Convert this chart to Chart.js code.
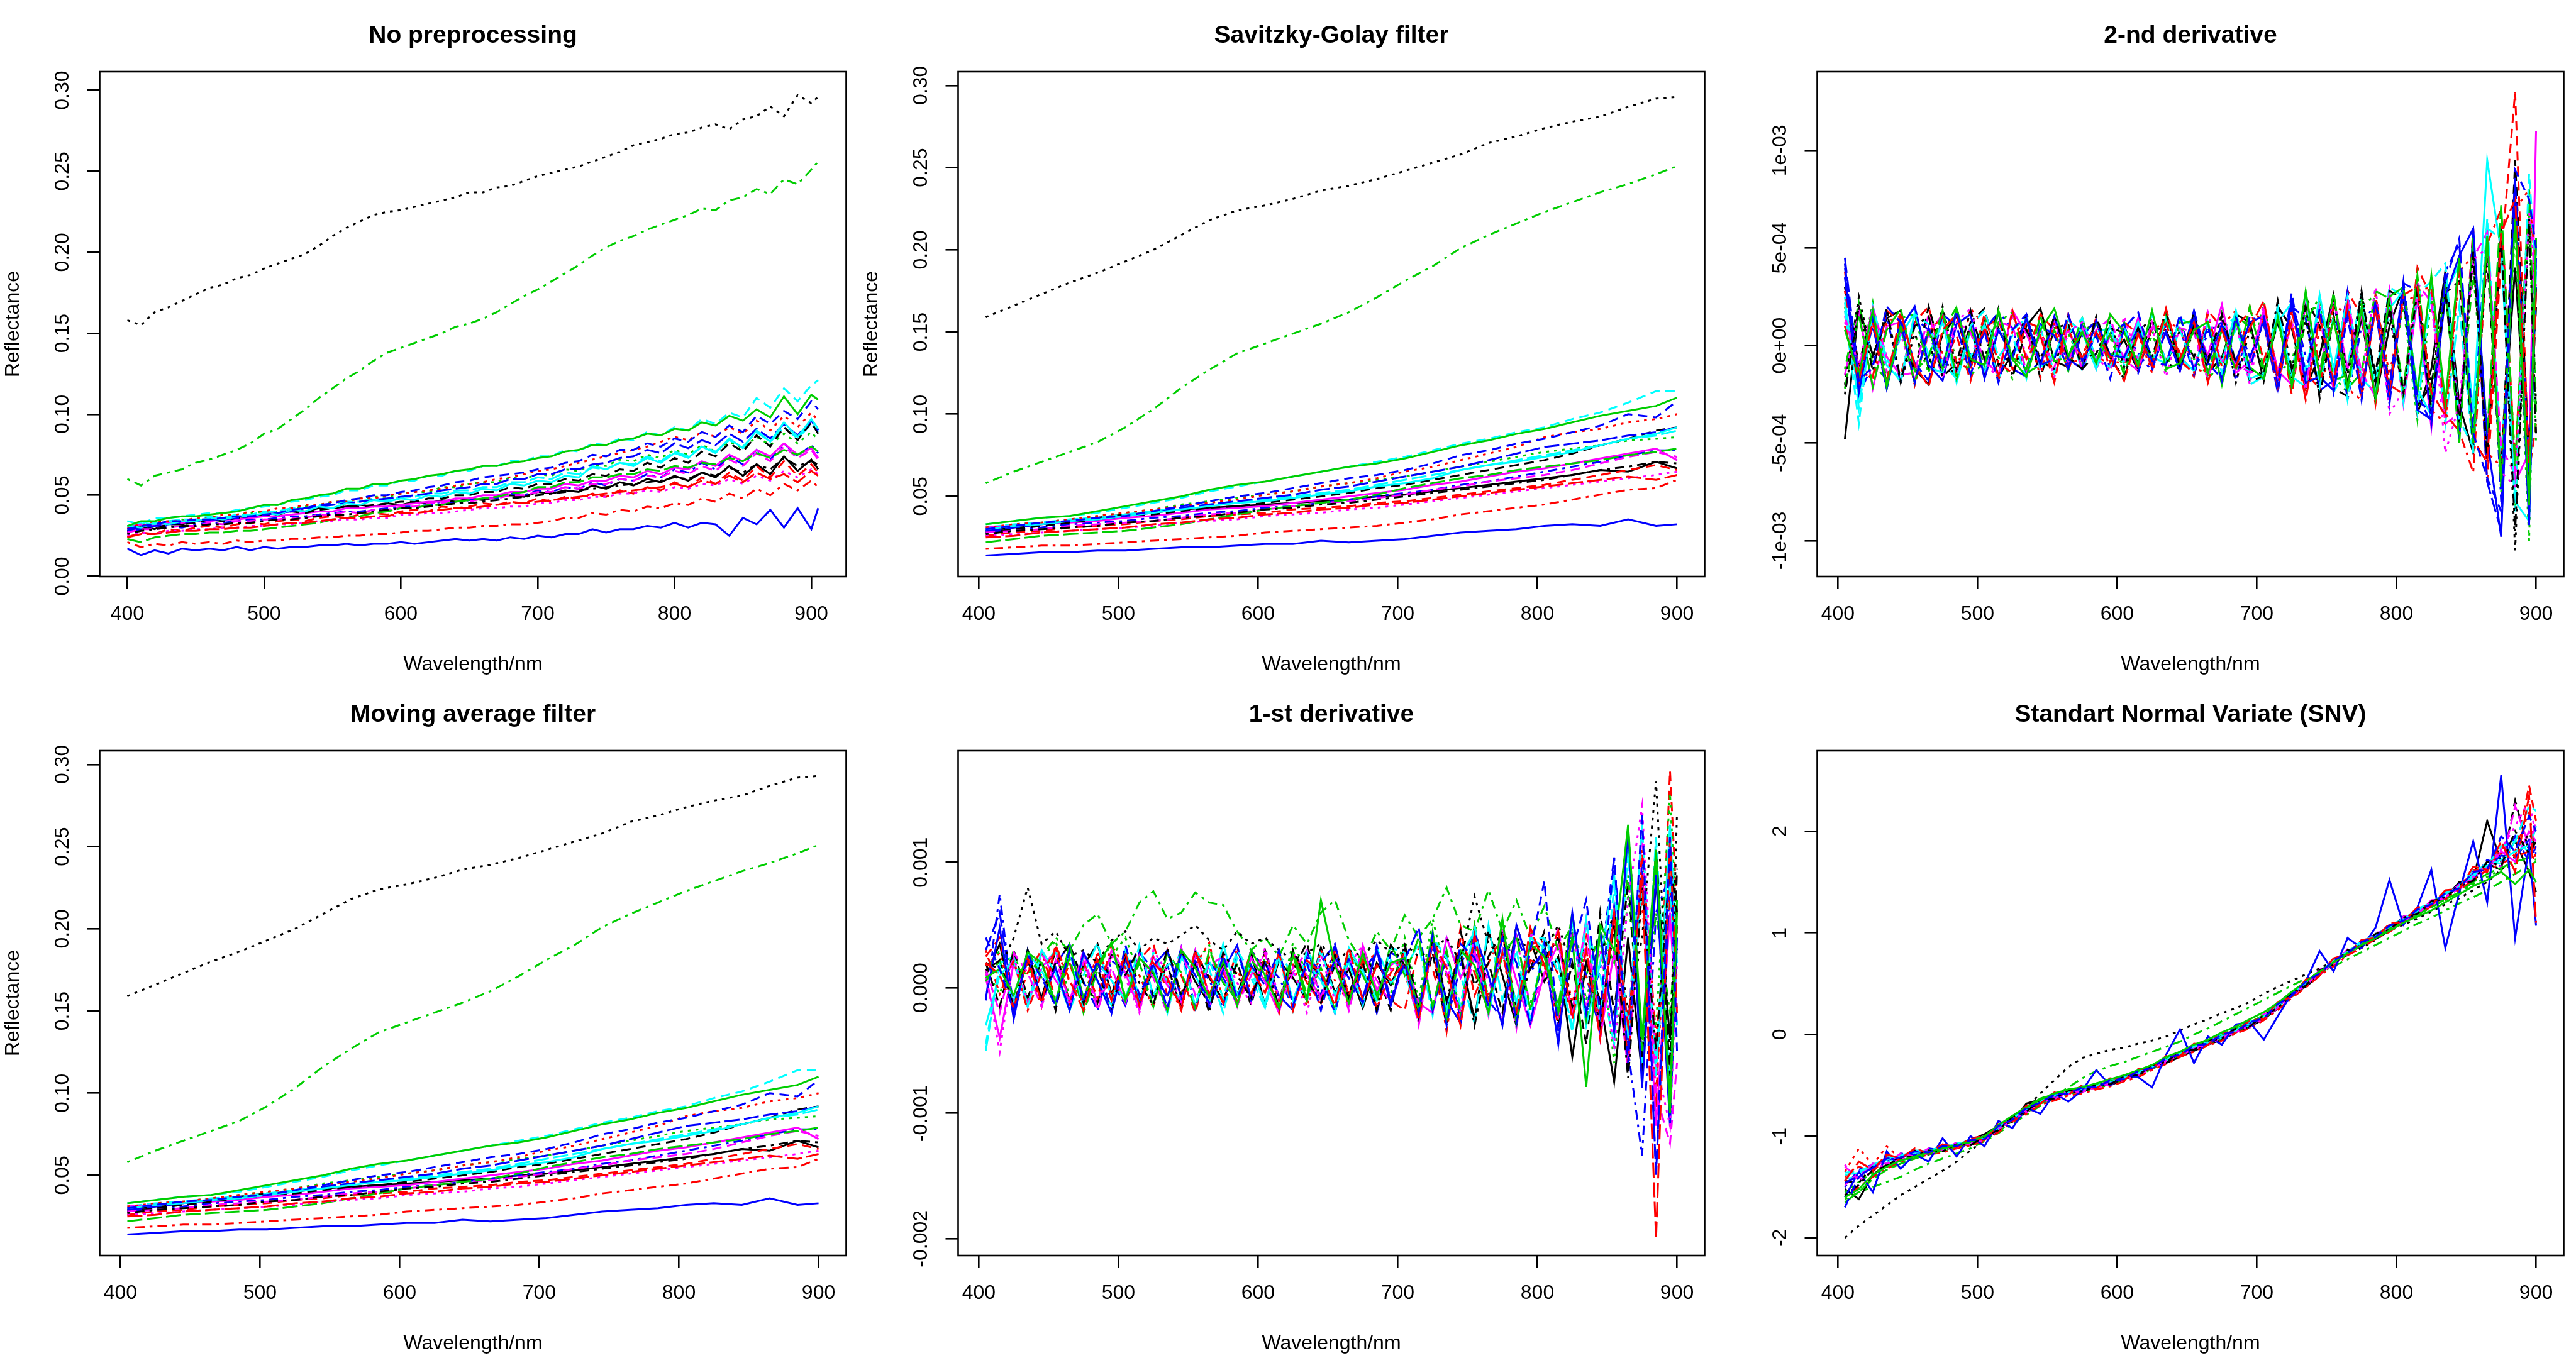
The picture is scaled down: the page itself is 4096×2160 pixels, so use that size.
<!DOCTYPE html>
<html>
<head>
<meta charset="utf-8">
<script src="https://cdn.jsdelivr.net/npm/chart.js@4.4.1/dist/chart.umd.min.js"></script>
<style>
  body { margin: 0; background: #fff; width: 4096px; height: 2160px; position: relative; overflow: hidden; }
  canvas { position: absolute; }
</style>
</head>
<body>
<canvas id="c1" width="1365" height="1080" style="left:0;top:0"></canvas>
<canvas id="c2" width="1365" height="1080" style="left:1365px;top:0"></canvas>
<canvas id="c3" width="1365" height="1080" style="left:2731px;top:0"></canvas>
<canvas id="c4" width="1365" height="1080" style="left:0;top:1080px"></canvas>
<canvas id="c5" width="1365" height="1080" style="left:1365px;top:1080px"></canvas>
<canvas id="c6" width="1365" height="1080" style="left:2731px;top:1080px"></canvas>
<script>
// wavelengths (nm)
const wlRaw = [400,410,420,430,440,450,460,470,480,490,500,510,520,530,540,550,560,570,580,590,600,610,620,630,640,650,660,670,680,690,700,710,720,730,740,750,760,770,780,790,800,810,820,830,840,850,860,870,880,890,900,905];
const wlSmooth = [405,425,445,465,485,505,525,545,565,585,605,625,645,665,685,705,725,745,765,785,805,825,845,865,885,900];
const wlTrim = [405,415,425,435,445,455,465,475,485,495,505,515,525,535,545,555,565,575,585,595,605,615,625,635,645,655,665,675,685,695,705,715,725,735,745,755,765,775,785,795,805,815,825,835,845,855,865,875,885,895,900];

// raw reflectance, one row per sample
const reflRaw = [
  [.028,.031,.029,.033,.032,.034,.035,.035,.037,.036, .039,.038,.041,.040,.042,.042,.043,.044,.043,.045, .044,.046,.045,.047,.046,.048,.047,.049,.050,.049, .052,.051,.053,.052,.056,.054,.058,.056,.060,.058, .062,.059,.064,.061,.068,.062,.069,.063,.074,.065, .072,.066],
  [.024,.027,.026,.029,.028,.030,.031,.030,.032,.033, .032,.034,.035,.034,.036,.037,.036,.038,.039,.038, .040,.041,.040,.043,.042,.043,.045,.044,.046,.045, .048,.046,.049,.048,.051,.049,.053,.051,.055,.053, .058,.055,.061,.057,.064,.059,.068,.061,.071,.062, .069,.064],
  [.029,.031,.032,.033,.035,.034,.037,.036,.038,.039, .040,.040,.042,.043,.044,.046,.046,.048,.049,.049, .051,.052,.052,.055,.055,.057,.058,.058,.061,.060, .063,.062,.066,.065,.069,.068,.072,.071,.075,.073, .078,.075,.081,.077,.083,.079,.086,.081,.088,.082, .089,.084],
  [.027,.029,.030,.031,.030,.032,.033,.033,.034,.035, .035,.036,.037,.037,.038,.039,.040,.040,.041,.042, .043,.043,.044,.046,.045,.047,.048,.048,.051,.050, .053,.052,.055,.054,.058,.056,.060,.059,.063,.061, .066,.064,.070,.066,.074,.069,.078,.072,.082,.074, .081,.076],
  [.030,.033,.032,.034,.035,.035,.037,.036,.038,.038, .040,.040,.042,.042,.044,.044,.046,.046,.048,.047, .049,.049,.051,.051,.053,.053,.055,.055,.058,.058, .061,.060,.064,.063,.067,.066,.070,.069,.074,.071, .077,.074,.080,.077,.084,.080,.089,.083,.092,.085, .094,.089],
  [.030,.032,.031,.033,.033,.034,.034,.035,.035,.036, .037,.037,.038,.039,.040,.040,.042,.042,.043,.043, .044,.045,.046,.046,.048,.048,.050,.050,.052,.052, .054,.054,.057,.056,.059,.059,.062,.061,.065,.063, .067,.066,.071,.068,.075,.071,.078,.074,.082,.075, .079,.073],
  [.027,.030,.029,.032,.032,.033,.035,.034,.036,.037, .038,.038,.040,.039,.041,.042,.043,.043,.044,.045, .046,.046,.048,.048,.050,.050,.052,.052,.055,.054, .057,.057,.060,.059,.063,.062,.066,.065,.070,.067, .073,.070,.077,.074,.082,.077,.087,.080,.092,.084, .095,.088],
  [.030,.032,.033,.034,.034,.036,.036,.038,.038,.040, .040,.042,.042,.044,.044,.046,.046,.048,.048,.050, .051,.052,.053,.054,.056,.057,.058,.060,.061,.063, .065,.066,.068,.070,.072,.074,.076,.078,.080,.083, .086,.084,.089,.086,.092,.088,.096,.090,.099,.092, .101,.096],
  [.060,.056,.062,.064,.066,.070,.072,.075,.078,.082, .088,.091,.097,.103,.110,.116,.122,.127,.133,.138, .141,.144,.147,.150,.154,.156,.159,.163,.168,.173, .177,.182,.187,.192,.198,.203,.207,.210,.214,.217, .220,.223,.227,.226,.232,.234,.239,.236,.245,.242, .251,.256],
  [.028,.030,.031,.032,.033,.034,.035,.035,.036,.037, .038,.039,.040,.042,.043,.044,.045,.046,.047,.048, .049,.050,.051,.053,.054,.055,.057,.057,.060,.060, .063,.063,.066,.066,.069,.070,.073,.074,.078,.076, .082,.079,.084,.081,.088,.083,.091,.085,.094,.087, .096,.090],
  [.031,.030,.033,.032,.034,.034,.036,.035,.037,.037, .039,.038,.041,.040,.043,.042,.045,.044,.047,.046, .048,.047,.050,.049,.052,.051,.054,.053,.057,.056, .059,.058,.062,.061,.068,.066,.070,.068,.073,.070, .076,.073,.080,.076,.085,.079,.090,.083,.095,.086, .097,.091],
  [.027,.029,.029,.030,.031,.031,.033,.032,.034,.034, .035,.035,.036,.036,.038,.038,.040,.039,.041,.041, .043,.043,.045,.045,.047,.046,.048,.048,.050,.050, .052,.052,.055,.054,.057,.057,.060,.059,.062,.061, .065,.063,.068,.065,.072,.068,.076,.071,.080,.073, .078,.072],
  [.158,.155,.163,.166,.170,.174,.178,.180,.184,.186, .190,.193,.196,.199,.204,.210,.215,.219,.223,.225, .226,.228,.230,.232,.234,.237,.237,.240,.241,.244, .247,.249,.251,.253,.256,.259,.262,.266,.268,.270, .273,.274,.277,.279,.276,.282,.284,.290,.284,.297, .292,.296],
  [.021,.018,.020,.019,.021,.020,.021,.020,.022,.021, .022,.022,.023,.023,.024,.024,.025,.025,.026,.026, .027,.028,.028,.029,.030,.030,.031,.031,.032,.032, .033,.034,.036,.036,.039,.038,.041,.040,.043,.042, .045,.044,.048,.046,.051,.048,.054,.050,.057,.053, .059,.055],
  [.023,.021,.024,.025,.026,.026,.027,.027,.028,.028, .029,.030,.031,.032,.033,.035,.036,.037,.039,.040, .042,.042,.044,.044,.046,.047,.048,.049,.051,.052, .055,.055,.058,.058,.061,.061,.063,.063,.066,.065, .068,.067,.070,.069,.073,.071,.076,.073,.078,.075, .080,.077],
  [.017,.013,.016,.014,.017,.016,.017,.016,.018,.016, .018,.017,.018,.018,.019,.019,.020,.019,.020,.020, .021,.020,.021,.022,.023,.022,.023,.022,.024,.023, .025,.024,.026,.026,.029,.027,.029,.029,.031,.030, .033,.030,.033,.032,.025,.036,.032,.041,.030,.042, .029,.042],
  [.034,.032,.036,.036,.037,.038,.039,.039,.041,.042, .043,.044,.046,.047,.049,.050,.053,.053,.056,.056, .059,.059,.062,.062,.065,.065,.068,.068,.071,.071, .074,.074,.078,.077,.082,.081,.085,.084,.089,.087, .092,.090,.097,.094,.101,.098,.110,.104,.116,.108, .118,.121],
  [.025,.027,.026,.028,.028,.029,.029,.030,.030,.031, .031,.032,.032,.033,.034,.034,.035,.035,.036,.036, .038,.038,.039,.039,.040,.041,.042,.042,.043,.043, .045,.045,.047,.047,.049,.049,.051,.051,.053,.052, .055,.054,.057,.056,.060,.057,.062,.059,.065,.061, .066,.063],
  [.026,.028,.029,.030,.031,.031,.032,.032,.033,.033, .034,.035,.035,.036,.037,.038,.038,.039,.040,.041, .042,.042,.043,.044,.045,.045,.046,.047,.048,.049, .050,.051,.052,.053,.054,.055,.056,.057,.058,.059, .061,.060,.064,.062,.067,.064,.069,.066,.073,.068, .071,.069],
  [.024,.026,.026,.027,.028,.028,.029,.029,.030,.030, .031,.032,.033,.033,.034,.035,.036,.036,.037,.037, .039,.039,.040,.041,.042,.042,.043,.044,.045,.045, .046,.047,.048,.049,.050,.051,.052,.053,.054,.055, .057,.055,.059,.057,.062,.058,.064,.060,.063,.058, .065,.062],
  [.031,.034,.034,.036,.037,.037,.038,.039,.040,.042, .044,.044,.047,.048,.050,.051,.054,.054,.057,.057, .059,.060,.062,.063,.065,.066,.068,.068,.070,.071, .073,.074,.077,.078,.081,.081,.084,.085,.088,.087, .091,.090,.095,.093,.099,.096,.103,.098,.111,.100, .112,.109],
  [.029,.031,.032,.034,.034,.035,.035,.036,.037,.037, .038,.039,.041,.042,.044,.045,.047,.048,.050,.050, .052,.053,.055,.056,.058,.059,.061,.062,.063,.064, .066,.067,.070,.071,.075,.074,.078,.078,.082,.080, .085,.083,.089,.086,.093,.089,.099,.094,.102,.097, .108,.103]
];

// smoothed reflectance (Savitzky-Golay and moving average look the same)
const reflSmooth = [
  [.029,.031,.033,.035,.037,.039,.040,.042,.043,.044,.045,.046,.047,.048,.050,.051,.053,.055,.057,.059,.061,.063,.066,.065,.071,.067],
  [.026,.028,.029,.031,.032,.033,.035,.036,.038,.039,.040,.042,.043,.044,.046,.047,.049,.051,.053,.055,.057,.060,.063,.066,.069,.066],
  [.030,.032,.034,.036,.038,.040,.042,.045,.047,.049,.051,.053,.056,.058,.060,.062,.065,.068,.071,.074,.077,.079,.081,.084,.085,.086],
  [.028,.030,.031,.033,.034,.035,.037,.038,.040,.041,.043,.044,.046,.048,.050,.052,.054,.057,.059,.062,.065,.068,.071,.075,.078,.078],
  [.031,.033,.034,.036,.037,.039,.041,.043,.045,.047,.048,.050,.052,.054,.057,.060,.063,.066,.069,.072,.075,.078,.081,.085,.087,.090],
  [.031,.032,.033,.034,.035,.037,.038,.040,.042,.043,.044,.046,.048,.050,.052,.054,.057,.059,.062,.065,.067,.070,.073,.076,.079,.072],
  [.028,.030,.032,.034,.036,.038,.039,.041,.043,.044,.046,.048,.050,.052,.055,.057,.060,.063,.066,.069,.072,.076,.081,.085,.090,.092],
  [.031,.033,.034,.036,.038,.040,.042,.044,.046,.048,.051,.053,.056,.058,.061,.065,.068,.072,.076,.080,.086,.089,.091,.095,.097,.100],
  [.058,.065,.071,.077,.083,.092,.103,.116,.127,.137,.143,.149,.155,.162,.171,.181,.190,.201,.209,.216,.223,.229,.235,.240,.246,.251],
  [.029,.031,.033,.035,.036,.038,.040,.043,.045,.047,.049,.051,.054,.056,.059,.062,.065,.068,.072,.076,.080,.082,.084,.087,.089,.092],
  [.030,.032,.033,.035,.036,.038,.040,.042,.044,.046,.047,.049,.051,.053,.056,.058,.061,.066,.069,.071,.074,.077,.081,.085,.088,.092],
  [.028,.029,.030,.032,.033,.034,.035,.037,.039,.040,.042,.044,.046,.047,.049,.051,.054,.056,.059,.061,.063,.066,.070,.074,.077,.074],
  [.159,.166,.173,.180,.186,.193,.200,.209,.218,.224,.227,.231,.236,.239,.243,.248,.253,.258,.265,.269,.274,.278,.281,.287,.292,.293],
  [.018,.019,.020,.020,.021,.022,.023,.024,.025,.026,.028,.029,.030,.031,.032,.034,.036,.039,.041,.043,.045,.048,.051,.054,.055,.060],
  [.022,.024,.026,.027,.028,.029,.031,.033,.036,.039,.042,.044,.046,.048,.051,.055,.058,.061,.063,.066,.068,.070,.072,.075,.077,.079],
  [.014,.015,.016,.016,.017,.017,.018,.019,.019,.020,.021,.021,.023,.022,.023,.024,.026,.028,.029,.030,.032,.033,.032,.036,.032,.033],
  [.033,.035,.037,.038,.040,.043,.046,.049,.053,.056,.059,.062,.065,.068,.071,.074,.078,.082,.085,.089,.092,.097,.101,.107,.114,.114],
  [.026,.027,.028,.029,.030,.031,.032,.034,.035,.036,.038,.039,.040,.042,.043,.045,.047,.049,.051,.053,.055,.057,.059,.061,.063,.065],
  [.027,.029,.030,.031,.032,.034,.035,.037,.038,.040,.042,.043,.045,.046,.048,.050,.052,.054,.056,.058,.060,.063,.066,.068,.071,.070],
  [.025,.026,.028,.029,.030,.031,.033,.034,.036,.037,.039,.040,.042,.043,.045,.046,.048,.050,.052,.054,.056,.058,.060,.062,.060,.063],
  [.033,.035,.037,.038,.041,.044,.047,.050,.054,.057,.059,.062,.065,.068,.070,.073,.077,.081,.084,.088,.091,.095,.099,.102,.105,.110],
  [.030,.032,.034,.035,.037,.038,.041,.044,.047,.050,.052,.055,.058,.061,.063,.066,.070,.075,.078,.082,.085,.089,.093,.100,.098,.108]
];

// 2nd derivative, in units of 1e-5
const deriv2 = [
  [-48,20,-5,14,18,-12,-20,6,15,-9, 12,-16,-4,10,19,-8,-11,7,12,-6, 3,-13,9,8,-10,17,-14,-6,16,12, -18,20,9,-22,-5,26,-20,14,-28,10, 30,-35,-12,38,-30,-55,55,-60,40,-70, 30],
  [38,-22,18,-6,-15,12,20,-10,5,-18, 9,14,-12,-5,16,8,-13,10,-6,-9, 12,6,-11,14,-4,-16,18,9,-12,20, -8,16,-25,22,-10,-18,28,15,-30,22, -28,40,25,-35,-44,60,-70,45,130,-65, -40],
  [20,-15,22,-18,10,6,-14,18,-8,-12, 15,-6,-17,12,9,-14,6,-9,11,4, -12,10,8,-14,12,-7,-15,19,-9,-11, 22,-14,-8,18,20,-16,-24,20,26,-18, 20,-38,24,-30,45,-55,50,-75,60,-100, 45],
  [42,-25,-10,16,-20,14,8,-16,18,-5, -13,17,9,-15,-8,12,-10,5,13,-12, 8,-4,-13,11,9,-15,7,12,-18,15, 11,-22,24,-6,-18,25,-28,10,22,-23, 33,-25,-40,38,52,-40,62,-80,75,-55, 30],
  [25,-32,14,-20,5,17,-11,-14,19,-6, 11,-18,8,14,-12,-6,10,-13,7,9, -10,12,-6,-9,14,10,-17,8,15,-20, -16,12,22,-13,20,-24,-10,26,-18,30, 25,-34,30,-40,20,-55,65,-60,70,-85, 50],
  [-15,18,-22,10,12,-18,6,16,-14,10, -7,-15,18,6,-11,13,-8,10,-12,5, -6,14,-10,7,-13,12,-5,21,-14,-8, 18,-13,-20,21,-14,24,-12,16,-26,28, -30,24,-42,30,-38,50,-48,62,-70,-55, 110],
  [30,-10,18,-20,9,-14,20,-6,-16,12, 19,-10,-5,15,-17,9,11,-12,-4,10, 6,-9,13,-10,8,-6,11,-16,14,-18, -16,12,-15,25,10,-22,-26,18,-14,28, 24,-31,-20,27,33,-52,45,-70,95,-60, 20],
  [18,-9,-18,12,15,-20,9,-4,-14,19, 10,-18,7,11,-16,12,-10,-6,14,-8, -9,6,-14,12,9,-11,-15,10,18,-12, 14,-18,22,-25,8,16,-22,-28,24,-15, 22,26,-33,-40,38,46,-55,-62,70,80, 25],
  [-12,22,-10,-17,14,16,-12,6,20,-15, -9,12,17,-14,-10,8,-13,11,6,-7, 12,-11,5,-8,11,13,-18,-7,16,9, -14,18,-20,12,25,-18,-15,24,-28,21, -27,35,-35,28,-44,38,-50,60,-85,70, -50],
  [45,-16,10,-22,14,-9,-18,16,10,-15, 8,17,-12,-16,11,5,-12,12,-8,6, 11,-14,9,6,-12,18,-9,-17,13,-6, 12,-24,20,14,-23,-18,28,-24,19,-30, 32,28,-40,34,-48,58,-70,-95,85,-65, 55],
  [22,-26,16,-10,-18,17,-5,12,-19,8, -14,9,-7,15,-11,-5,13,7,-12,10, -8,12,-10,14,-6,-13,12,-9,18,-17, -14,20,-16,-21,26,-12,25,-17,-24,19, 28,-22,-36,26,42,-35,95,48,-80,-90, 40],
  [15,-12,20,-6,-15,-14,16,-9,12,7, -16,12,10,-13,6,-11,9,-12,8,14, -7,-13,12,-8,9,7,-18,12,-9,-14, 19,-13,11,-20,15,-22,24,-14,-26,20, -26,32,22,-40,-35,45,58,-52,-66,78, 35],
  [-20,25,-7,18,-19,6,-11,20,-12,10, -16,9,-7,17,-8,-12,15,-7,-4,12, -11,7,14,-9,-12,8,-7,15,-19,8, -14,12,-17,13,-26,24,-15,28,-21,16, -25,30,-22,34,-40,46,-55,60,-105,70, -30],
  [28,-14,-16,18,12,-20,7,15,-9,-12, 16,-9,-14,12,9,-16,8,-7,14,-13, 7,-12,9,11,-8,-14,16,-11,10,17, 13,-21,18,-14,-22,20,17,-22,26,-20, -25,28,30,-35,-44,-65,52,70,-60,75, 42],
  [-22,16,-21,8,19,-13,-6,18,-17,9, -10,17,-6,-12,15,-8,-6,14,-9,6, -15,8,-7,16,-9,11,-14,8,-13,20, -12,15,-21,19,-15,27,-22,-14,28,24, -22,36,-28,32,-50,56,-45,72,-62,80, -35],
  [35,-24,14,-22,9,20,-10,-18,11,16, -17,8,-6,14,-10,15,-7,-12,13,-5, -6,9,-11,7,-13,14,-9,11,-8,12, 15,-17,23,-19,-16,-23,19,-25,20,-27, 27,-33,-38,25,46,60,-48,-98,78,-92, 45],
  [18,-40,20,-7,-19,16,11,-9,-17,10, 18,-6,5,-17,9,-14,6,14,-7,-11, 9,-7,16,-9,8,-12,11,-14,9,-12, -16,19,-14,27,-21,15,-28,20,-22,24, -29,26,33,42,-38,-52,60,55,-85,88, 38],
  [12,-10,19,-13,6,-18,10,-17,12,19, -8,-17,16,-5,8,-16,7,12,-6,-13, 15,-8,9,-16,10,-11,17,-9,12,-20, 21,-16,13,-25,19,-23,16,-17,30,-35, -23,25,27,-55,-30,44,50,-65,-72,68, 30],
  [-25,20,-13,19,-18,10,15,-16,-9,18, -7,19,-16,8,-7,15,-6,-12,15,-6, -17,9,-6,18,-11,10,-8,16,-9,-12, -15,23,-12,20,-27,15,-23,28,-19,21, -24,28,-33,27,-39,48,-58,55,-95,65, -45],
  [10,-18,12,-19,17,-10,-21,8,16,-11, 9,-16,18,-7,5,-19,16,-8,7,-6, -18,6,-10,19,-7,12,-19,8,-11,9, 23,-16,12,-28,15,-19,21,-26,19,-23, 26,30,-24,-36,41,-48,-60,58,75,-60, 28],
  [8,-15,18,-21,10,-19,8,-12,19,-7, -10,18,-7,-16,8,19,-5,7,-9,16, 7,-10,18,-12,-9,8,12,-20,13,-11, -17,14,-20,28,-16,13,-22,19,-27,25, 30,-24,36,-29,45,-50,56,-72,65,-82, 55],
  [40,-18,-11,20,12,-19,9,-11,18,-10, 7,-19,8,16,-10,-7,16,-8,5,-17, 9,17,-8,-10,16,-13,10,-18,15,-12, 14,-20,27,-15,19,-24,15,-28,23,-21, 31,-27,-35,33,55,-45,-68,-85,90,75, 50]
];

// 1st derivative, in units of 1e-5
const deriv1 = [
  [10,35,-15,22,-8,30,-12,18,35,-5, 25,-10,14,-18,30,5,-12,20,-6,28, -14,22,8,-10,32,-4,15,-16,20,2, 30,-20,40,-12,25,-25,45,10,-30,38, 5,25,-55,20,-10,-75,40,-70,85,-40, 50],
  [25,40,-18,12,30,-10,20,-15,28,8, -12,22,35,-6,10,-20,25,12,-8,30, 15,-18,26,4,-12,32,-5,18,28,-10, -18,32,15,-25,48,-6,20,42,-15,30, 38,10,-20,45,-30,55,-60,95,-95,173, 60],
  [15,-5,30,-10,22,38,-8,15,-15,25, 40,10,-12,28,-4,20,34,-10,18,-6, 24,-12,36,12,-8,26,-15,30,10,-5, 40,-10,55,8,-20,35,-15,48,20,-12, 20,-15,48,-10,40,-60,75,-45,-30,155, 40],
  [-10,75,-20,25,10,-15,30,5,-18,22, 12,32,-10,18,-14,24,6,-16,30,-8, 20,8,-15,26,-6,34,-12,14,28,-10, 25,-15,40,-28,18,45,-10,-25,42,12, 30,-25,45,-20,15,104,-50,-134,60,90, -20],
  [-50,20,25,-12,15,30,-18,10,36,-8, 18,-15,28,5,-10,30,15,-20,24,8, -16,26,12,-10,30,-6,20,-14,32,4, 15,35,-22,40,10,-28,50,-10,30,-25, 40,20,-35,50,10,-45,110,-60,120,-80, 70],
  [8,-40,20,-15,28,6,-10,22,-12,30, 12,-18,25,2,-12,30,-6,16,-15,24, 5,-20,28,10,-8,22,-14,34,-2,18, 25,-12,-20,40,8,30,-22,45,6,-30, 12,35,-20,55,-40,30,-65,90,-110,60, -30],
  [20,-15,30,-8,22,-18,35,4,-12,26, 10,32,-6,18,-16,28,8,-10,20,-14, 30,-8,14,36,-12,18,-5,25,12,-18, 35,-15,28,-30,45,2,20,-20,50,15, 45,-30,20,-45,60,-20,85,-55,110,-70, 95],
  [18,28,-12,20,-15,32,5,-10,28,-6, 22,10,-16,30,-4,18,36,-12,14,-8, 26,-10,18,-15,30,6,-12,24,-18,15, 12,-25,35,10,-22,50,-8,28,-28,42, 15,40,-12,30,-25,50,-40,70,-85,110, 40],
  [12,30,18,10,25,40,30,50,59,35, 45,68,77,55,60,76,68,66,45,30, 40,25,50,35,60,70,38,20,45,30, 58,40,55,80,50,45,78,45,70,40, 65,30,50,10,45,20,90,-40,60,-20, 50],
  [30,60,-15,25,-10,18,35,-12,22,6, -14,28,15,-8,32,-16,20,8,-12,30, 14,-18,26,-6,20,35,-10,15,-20,28, 22,48,-18,26,-25,35,-12,40,20,-30, 35,-20,40,10,-35,65,-45,100,-148,85, 30],
  [-30,10,22,-15,30,12,-18,26,5,-14, 30,-8,16,-20,24,10,-12,35,-6,18, -14,28,-10,20,6,-18,32,12,-8,22, 14,-26,38,-18,24,45,-20,30,-12,40, 32,-18,55,-30,20,90,-40,80,-60,130, 20],
  [15,-20,28,12,-15,22,-10,30,-18,16, -12,26,8,-20,32,-6,18,25,-14,10, 28,-16,12,30,-10,20,-18,26,6,-12, 20,-30,38,12,-24,28,6,-28,40,-15, 10,48,-25,35,-40,60,-30,120,-85,-124, -60],
  [20,15,40,80,35,45,25,30,20,38, 45,30,40,35,42,50,38,30,45,35, 40,30,22,28,35,20,30,25,38,28, 35,25,30,40,20,73,35,25,40,30, 30,50,15,35,25,60,-20,40,165,-60, 140],
  [30,-5,22,-18,12,30,-12,20,-8,34, 16,-14,25,6,-18,28,10,-12,32,-4, 18,-20,26,8,-14,30,-6,22,-16,12, 28,-20,35,-35,40,12,-18,45,-25,22, 18,-30,42,8,-20,55,-60,110,-40,75, 25],
  [5,22,-18,30,8,-12,24,-20,14,36, -8,20,-15,28,12,-16,30,4,-10,22, 8,-14,30,-6,16,-18,28,10,-12,35, 10,40,-15,30,-20,50,-10,25,42,-18, 30,-15,60,-25,40,-35,128,-50,100,-90, 70],
  [-8,48,-25,30,-10,16,-18,28,6,-20, 24,-12,18,30,-8,22,-16,14,34,-10, 20,-6,-18,28,10,-20,24,-8,30,-14, 25,-20,35,-10,-28,45,10,-30,50,15, 30,-45,60,-20,45,-35,128,-80,90,-110, 40],
  [-45,18,-12,28,14,-10,30,-16,20,6, -10,34,-6,18,26,-14,22,-8,30,12, -12,24,-18,30,10,-20,25,14,-10,32, 28,-22,40,24,-14,50,-20,30,-26,40, 40,12,-30,55,-25,80,-35,130,-70,90, -30],
  [12,-51,24,-10,16,30,-14,20,-18,26, 8,-20,30,12,-10,24,-15,28,4,-12, 32,-8,16,-20,26,-10,18,34,-6,14, 22,-28,36,18,-20,42,-15,30,-32,45, 20,-25,45,-15,30,-50,70,145,-60,-110, 20],
  [14,22,-16,30,-10,20,34,-12,16,-18, 26,4,-14,32,-6,18,-20,28,10,-8, 22,-16,30,6,-12,26,-8,20,-18,34, 18,-24,40,-10,30,-30,25,45,-20,16, 22,40,-15,20,-30,50,-72,80,-50,100, 60],
  [20,10,-16,24,-12,34,6,-18,22,-10, 28,-14,20,8,-16,30,-6,24,-12,16, -4,28,-18,22,12,-14,32,-10,18,6, 20,-26,38,16,-30,42,-12,28,-22,48, 18,45,-25,30,-40,60,-30,90,-200,120, -20],
  [8,15,-6,28,20,-12,34,-8,18,36, -10,24,12,-18,30,16,-8,22,-14,30, 10,-16,26,-10,70,18,-12,28,-6,20, 24,-18,45,-25,30,18,-20,55,-28,35, 25,-20,40,-79,50,30,130,-40,110,-100, 60],
  [40,15,-18,26,8,-14,30,-10,22,-20, 34,-6,20,-16,28,10,-12,26,-8,18, 2,30,-14,20,-18,24,8,-12,34,-10, 20,-20,42,-30,35,24,-15,40,-28,30, 85,-35,30,70,-20,104,-60,140,-150,120, -50]
];

// standard normal variate
const snv = [
  [-1.52,-1.62,-1.38,-1.28,-1.22,-1.14,-1.18,-1.10,-1.12,-1.04, -0.98,-0.90,-0.86,-0.68,-0.64,-0.63,-0.55,-0.56,-0.50,-0.50, -0.44,-0.40,-0.30,-0.28,-0.22,-0.16,-0.10,-0.05,0.02,0.08, 0.15,0.26,0.42,0.47,0.58,0.74,0.78,0.92,0.94,1.02, 1.16,1.18,1.30,1.34,1.50,1.52,2.10,1.70,1.90,1.60,1.40],
  [-1.40,-1.30,-1.35,-1.20,-1.24,-1.12,-1.18,-1.08,-1.12,-1.02, -1.00,-0.94,-0.80,-0.76,-0.68,-0.60,-0.58,-0.52,-0.53,-0.46, -0.45,-0.36,-0.34,-0.24,-0.21,-0.12,-0.10,-0.01,0.02,0.12, 0.15,0.30,0.36,0.52,0.58,0.73,0.79,0.91,0.95,1.08, 1.10,1.24,1.27,1.40,1.42,1.62,1.60,1.85,1.75,2.45,2.10],
  [-1.55,-1.45,-1.36,-1.30,-1.24,-1.22,-1.17,-1.16,-1.10,-1.09, -1.04,-0.95,-0.85,-0.77,-0.68,-0.64,-0.58,-0.57,-0.52,-0.50, -0.44,-0.40,-0.34,-0.27,-0.20,-0.15,-0.09,-0.04,0.03,0.08, 0.16,0.26,0.37,0.49,0.59,0.70,0.79,0.88,0.96,1.03, 1.10,1.18,1.26,1.32,1.40,1.48,1.55,1.62,1.68,1.75,1.72],
  [-1.50,-1.33,-1.28,-1.25,-1.17,-1.19,-1.12,-1.14,-1.07,-1.08, -1.00,-0.93,-0.81,-0.75,-0.64,-0.62,-0.55,-0.55,-0.49,-0.48, -0.41,-0.39,-0.31,-0.26,-0.17,-0.14,-0.06,-0.03,0.06,0.09, 0.19,0.27,0.41,0.49,0.63,0.70,0.83,0.88,0.99,1.04, 1.15,1.20,1.31,1.36,1.48,1.52,1.72,1.65,1.95,1.70,1.85],
  [-1.42,-1.40,-1.27,-1.26,-1.18,-1.18,-1.13,-1.13,-1.07,-1.07, -1.01,-0.93,-0.82,-0.75,-0.65,-0.62,-0.56,-0.55,-0.50,-0.48, -0.42,-0.39,-0.31,-0.26,-0.18,-0.14,-0.07,-0.03,0.05,0.09, 0.18,0.27,0.40,0.49,0.62,0.70,0.82,0.88,0.98,1.04, 1.14,1.20,1.30,1.36,1.47,1.55,1.70,1.68,1.90,1.80,2.05],
  [-1.48,-1.36,-1.32,-1.22,-1.21,-1.15,-1.16,-1.10,-1.10,-1.04, -1.03,-0.90,-0.84,-0.72,-0.67,-0.59,-0.58,-0.52,-0.52,-0.45, -0.44,-0.36,-0.33,-0.23,-0.20,-0.11,-0.09,0.00,0.03,0.12, 0.16,0.30,0.38,0.52,0.60,0.73,0.80,0.91,0.96,1.07, 1.12,1.23,1.28,1.39,1.44,1.60,1.62,1.80,1.70,2.00,1.90],
  [-1.44,-1.46,-1.29,-1.30,-1.19,-1.20,-1.14,-1.15,-1.08,-1.09, -1.01,-0.95,-0.82,-0.77,-0.65,-0.64,-0.56,-0.57,-0.50,-0.50, -0.42,-0.41,-0.31,-0.28,-0.18,-0.16,-0.07,-0.05,0.05,0.07, 0.18,0.25,0.40,0.47,0.62,0.68,0.82,0.86,0.98,1.02, 1.14,1.18,1.30,1.34,1.46,1.50,1.68,1.62,2.30,1.80,1.95],
  [-1.35,-1.12,-1.28,-1.10,-1.22,-1.13,-1.17,-1.09,-1.11,-1.03, -1.04,-0.89,-0.85,-0.71,-0.68,-0.58,-0.59,-0.51,-0.53,-0.44, -0.45,-0.35,-0.34,-0.22,-0.21,-0.10,-0.10,0.01,0.02,0.13, 0.15,0.31,0.37,0.53,0.59,0.74,0.79,0.92,0.95,1.08, 1.11,1.24,1.27,1.41,1.43,1.60,1.64,1.78,1.80,2.20,1.70],
  [-1.62,-1.55,-1.50,-1.45,-1.40,-1.33,-1.27,-1.22,-1.17,-1.12, -1.05,-0.97,-0.88,-0.79,-0.70,-0.61,-0.52,-0.43,-0.36,-0.31, -0.27,-0.22,-0.17,-0.12,-0.07,0.00,0.06,0.13,0.20,0.27, 0.34,0.41,0.48,0.55,0.61,0.67,0.74,0.81,0.88,0.95, 1.02,1.09,1.15,1.22,1.29,1.35,1.42,1.50,1.58,1.66,1.70],
  [-1.46,-1.39,-1.31,-1.23,-1.21,-1.16,-1.16,-1.11,-1.10,-1.05, -1.03,-0.91,-0.84,-0.73,-0.67,-0.60,-0.58,-0.53,-0.52,-0.46, -0.44,-0.37,-0.33,-0.24,-0.20,-0.12,-0.09,-0.01,0.03,0.11, 0.16,0.29,0.38,0.51,0.60,0.72,0.80,0.90,0.96,1.06, 1.12,1.22,1.28,1.38,1.44,1.58,1.64,1.76,1.74,1.92,1.78],
  [-1.38,-1.36,-1.28,-1.23,-1.19,-1.16,-1.14,-1.11,-1.08,-1.05, -1.01,-0.91,-0.82,-0.73,-0.65,-0.60,-0.56,-0.53,-0.50,-0.46, -0.42,-0.37,-0.31,-0.24,-0.18,-0.12,-0.07,-0.01,0.05,0.11, 0.18,0.29,0.40,0.51,0.62,0.72,0.82,0.90,0.98,1.06, 1.14,1.22,1.30,1.38,1.46,1.57,1.66,1.72,1.80,1.86,2.05],
  [-1.30,-1.41,-1.27,-1.27,-1.17,-1.20,-1.12,-1.15,-1.06,-1.09, -0.99,-0.95,-0.80,-0.77,-0.63,-0.64,-0.54,-0.57,-0.48,-0.50, -0.40,-0.41,-0.29,-0.28,-0.16,-0.16,-0.05,-0.05,0.07,0.07, 0.20,0.25,0.42,0.47,0.64,0.68,0.84,0.86,1.00,1.02, 1.16,1.18,1.32,1.34,1.48,1.52,1.70,1.65,2.25,1.85,2.10],
  [-2.00,-1.88,-1.78,-1.68,-1.58,-1.50,-1.42,-1.34,-1.25,-1.14, -1.04,-0.94,-0.84,-0.72,-0.58,-0.45,-0.32,-0.23,-0.19,-0.15, -0.13,-0.09,-0.06,-0.02,0.04,0.10,0.15,0.21,0.26,0.32, 0.40,0.47,0.53,0.59,0.65,0.72,0.79,0.85,0.93,1.02, 1.08,1.14,1.21,1.28,1.34,1.42,1.50,1.62,1.75,1.98,1.85],
  [-1.60,-1.50,-1.40,-1.32,-1.25,-1.22,-1.18,-1.16,-1.12,-1.09, -1.05,-0.96,-0.86,-0.78,-0.69,-0.65,-0.60,-0.58,-0.54,-0.51, -0.46,-0.42,-0.35,-0.29,-0.22,-0.17,-0.11,-0.06,0.01,0.06, 0.14,0.24,0.36,0.46,0.58,0.67,0.78,0.85,0.94,1.01, 1.10,1.17,1.26,1.33,1.42,1.52,1.62,1.68,1.75,1.80,1.70],
  [-1.65,-1.55,-1.42,-1.33,-1.27,-1.22,-1.18,-1.14,-1.10,-1.06, -1.01,-0.90,-0.80,-0.71,-0.63,-0.58,-0.55,-0.52,-0.49,-0.45, -0.41,-0.36,-0.30,-0.23,-0.17,-0.11,-0.06,0.00,0.06,0.12, 0.19,0.30,0.41,0.52,0.62,0.72,0.81,0.89,0.96,1.04, 1.11,1.18,1.25,1.33,1.40,1.50,1.58,1.64,1.70,1.74,1.72],
  [-1.60,-1.35,-1.55,-1.15,-1.32,-1.18,-1.25,-1.02,-1.20,-1.00, -1.10,-0.85,-0.92,-0.72,-0.78,-0.58,-0.66,-0.55,-0.35,-0.50, -0.40,-0.42,-0.52,-0.20,0.05,-0.28,-0.02,-0.10,0.10,0.12, -0.05,0.18,0.40,0.52,0.82,0.62,0.95,0.85,1.05,1.52, 1.08,1.25,1.62,0.85,1.40,1.90,1.30,2.55,0.95,1.85,1.07],
  [-1.36,-1.34,-1.29,-1.21,-1.20,-1.14,-1.15,-1.09,-1.09,-1.03, -1.02,-0.89,-0.83,-0.71,-0.66,-0.58,-0.57,-0.51,-0.51,-0.44, -0.43,-0.35,-0.32,-0.22,-0.19,-0.10,-0.08,0.01,0.04,0.13, 0.17,0.31,0.39,0.53,0.61,0.74,0.81,0.92,0.97,1.08, 1.13,1.24,1.29,1.40,1.45,1.62,1.66,1.85,1.90,2.25,2.20],
  [-1.28,-1.44,-1.33,-1.27,-1.23,-1.19,-1.17,-1.13,-1.11,-1.07, -1.04,-0.93,-0.85,-0.75,-0.68,-0.62,-0.59,-0.55,-0.53,-0.48, -0.45,-0.39,-0.34,-0.26,-0.21,-0.14,-0.10,-0.03,0.02,0.09, 0.15,0.27,0.37,0.49,0.59,0.70,0.79,0.88,0.95,1.04, 1.11,1.20,1.27,1.36,1.43,1.55,1.64,1.82,2.05,2.30,1.95],
  [-1.58,-1.48,-1.33,-1.30,-1.21,-1.20,-1.14,-1.15,-1.08,-1.09, -1.00,-0.94,-0.81,-0.76,-0.64,-0.63,-0.55,-0.56,-0.49,-0.49, -0.41,-0.40,-0.30,-0.27,-0.17,-0.15,-0.06,-0.04,0.06,0.08, 0.19,0.26,0.41,0.48,0.63,0.69,0.83,0.87,0.99,1.03, 1.15,1.19,1.31,1.35,1.47,1.51,1.70,1.66,2.00,1.78,1.90],
  [-1.44,-1.25,-1.33,-1.18,-1.22,-1.12,-1.17,-1.08,-1.11,-1.02, -1.04,-0.88,-0.85,-0.70,-0.68,-0.57,-0.59,-0.50,-0.53,-0.43, -0.45,-0.34,-0.34,-0.21,-0.21,-0.09,-0.10,0.02,0.02,0.14, 0.15,0.32,0.37,0.54,0.59,0.75,0.79,0.93,0.95,1.09, 1.11,1.25,1.27,1.42,1.43,1.65,1.62,1.90,1.60,2.35,1.10],
  [-1.60,-1.52,-1.38,-1.30,-1.24,-1.20,-1.16,-1.12,-1.09,-1.05, -1.00,-0.89,-0.80,-0.72,-0.64,-0.58,-0.54,-0.52,-0.48,-0.44, -0.40,-0.35,-0.30,-0.22,-0.17,-0.10,-0.05,0.02,0.08,0.15, 0.22,0.31,0.42,0.52,0.62,0.71,0.80,0.88,0.95,1.02, 1.10,1.16,1.22,1.30,1.38,1.46,1.52,1.60,1.48,1.62,1.50],
  [-1.70,-1.40,-1.31,-1.22,-1.21,-1.15,-1.16,-1.10,-1.10,-1.04, -1.03,-0.90,-0.84,-0.72,-0.67,-0.59,-0.58,-0.52,-0.52,-0.45, -0.44,-0.36,-0.33,-0.23,-0.20,-0.11,-0.09,0.00,0.03,0.12, 0.16,0.30,0.38,0.52,0.60,0.73,0.80,0.91,0.96,1.07, 1.12,1.23,1.28,1.39,1.44,1.60,1.62,1.95,1.80,2.15,2.00]
];

// axis ticks
const xTicks = [400, 500, 600, 700, 800, 900];
const xTickLabels = ['400', '500', '600', '700', '800', '900'];
const reflTicks = [0, 0.05, 0.10, 0.15, 0.20, 0.25, 0.30];
const reflTickLabels = ['0.00', '0.05', '0.10', '0.15', '0.20', '0.25', '0.30'];
const smoothTicks = [0.05, 0.10, 0.15, 0.20, 0.25, 0.30];
const smoothTickLabels = ['0.05', '0.10', '0.15', '0.20', '0.25', '0.30'];
const d2Ticks = [-100, -50, 0, 50, 100];
const d2TickLabels = ['-1e-03', '-5e-04', '0e+00', '5e-04', '1e-03'];
const d1Ticks = [-200, -100, 0, 100];
const d1TickLabels = ['-0.002', '-0.001', '0.000', '0.001'];
const snvTicks = [-2, -1, 0, 1, 2];
const snvTickLabels = ['-2', '-1', '0', '1', '2'];

// matplot style: col = 1:6, lty = 1:5
const lineColors = ['#000000', '#FF0000', '#00CD00', '#0000FF', '#00FFFF', '#FF00FF'];
const lineDashes = [[], [15, 9], [4.5, 8], [4.5, 8, 15, 8], [24, 7]];

Chart.defaults.font.family = '"Liberation Sans", Arial, Helvetica, sans-serif';
Chart.defaults.color = '#000';

// box around the plot region plus R-style rotated y tick labels
const framePlugin = {
  id: 'rframe',
  afterDraw(chart, args, opts) {
    const { ctx, chartArea: a } = chart;
    const y = chart.scales.y;
    ctx.save();
    ctx.strokeStyle = '#000';
    ctx.lineWidth = 2.6;
    ctx.strokeRect(a.left, a.top, a.right - a.left, a.bottom - a.top);
    ctx.font = '32px "Liberation Sans", Arial, sans-serif';
    ctx.fillStyle = '#000';
    ctx.textAlign = 'center';
    ctx.textBaseline = 'middle';
    opts.ticks.forEach((v, k) => {
      ctx.save();
      ctx.translate(100, y.getPixelForValue(v));
      ctx.rotate(-Math.PI / 2);
      ctx.fillText(opts.labels[k], 0, 0);
      ctx.restore();
    });
    ctx.restore();
  }
};

function drawPanel(p) {
  const n = p.ys.length;
  const datasets = p.ys.map((row, i) => ({
    data: row.map((v, k) => ({ x: p.xs[k], y: v })),
    borderColor: lineColors[i % 6],
    borderDash: lineDashes[i % 5],
    borderWidth: 3,
    borderCapStyle: 'butt',
    pointRadius: 0,
    tension: 0,
    fill: false,
    order: n - i
  }));
  const axisGrid = { drawOnChartArea: false, drawTicks: true, tickLength: 20, tickWidth: 2.6, tickColor: '#000', color: '#000', lineWidth: 2.6 };

  new Chart(document.getElementById(p.id), {
    type: 'line',
    data: { datasets },
    options: {
      responsive: false,
      animation: false,
      devicePixelRatio: 1,
      layout: { padding: { left: 0, right: 19.5, top: 0, bottom: 0 } },
      plugins: {
        legend: { display: false },
        tooltip: { enabled: false },
        title: {
          display: true, text: p.title, fullSize: false,
          font: { size: 39, weight: 'bold' },
          padding: { top: 34, bottom: 33.2 }
        },
        rframe: { ticks: p.ticks, labels: p.labels }
      },
      scales: {
        x: {
          type: 'linear', min: p.xr[0], max: p.xr[1],
          afterBuildTicks: s => { s.ticks = xTicks.map(v => ({ value: v })); },
          afterFit: s => { s.height = 163; s.paddingLeft = 0; s.paddingRight = 0; },
          ticks: { font: { size: 32 }, padding: 20.8, maxRotation: 0, autoSkip: false, callback: (v, i) => xTickLabels[i] },
          grid: axisGrid,
          border: { display: false },
          title: { display: true, text: 'Wavelength/nm', font: { size: 32 }, padding: { top: 0, bottom: 3.3 } }
        },
        y: {
          type: 'linear', min: p.yr[0], max: p.yr[1],
          afterBuildTicks: s => { s.ticks = p.ticks.map(v => ({ value: v })); },
          afterFit: s => { s.width = 158.5; s.paddingTop = 0; s.paddingBottom = 0; },
          ticks: { display: false },
          grid: axisGrid,
          border: { display: false },
          title: { display: !!p.yTitle, text: p.yTitle || '', font: { size: 32 }, padding: { top: 1.8, bottom: 0 } }
        }
      }
    },
    plugins: [framePlugin]
  });
}

const panels = [
  { id: 'c1', title: 'No preprocessing', xs: wlRaw, ys: reflRaw, xr: [379.8, 925.5], yr: [-0.0002, 0.3115], ticks: reflTicks, labels: reflTickLabels, yTitle: 'Reflectance' },
  { id: 'c2', title: 'Savitzky-Golay filter', xs: wlSmooth, ys: reflSmooth, xr: [385.2, 919.8], yr: [0.0012, 0.3084], ticks: smoothTicks, labels: smoothTickLabels, yTitle: 'Reflectance' },
  { id: 'c3', title: '2-nd derivative', xs: wlTrim, ys: deriv2, xr: [385.2, 919.8], yr: [-118.4, 140.4], ticks: d2Ticks, labels: d2TickLabels },
  { id: 'c4', title: 'Moving average filter', xs: wlSmooth, ys: reflSmooth, xr: [385.2, 919.8], yr: [0.0012, 0.3084], ticks: smoothTicks, labels: smoothTickLabels, yTitle: 'Reflectance' },
  { id: 'c5', title: '1-st derivative', xs: wlTrim, ys: deriv1, xr: [385.2, 919.8], yr: [-213.4, 189.1], ticks: d1Ticks, labels: d1TickLabels },
  { id: 'c6', title: 'Standart Normal Variate (SNV)', xs: wlTrim, ys: snv, xr: [385.2, 919.8], yr: [-2.174, 2.792], ticks: snvTicks, labels: snvTickLabels }
];
panels.forEach(drawPanel);
</script>
</body>
</html>
